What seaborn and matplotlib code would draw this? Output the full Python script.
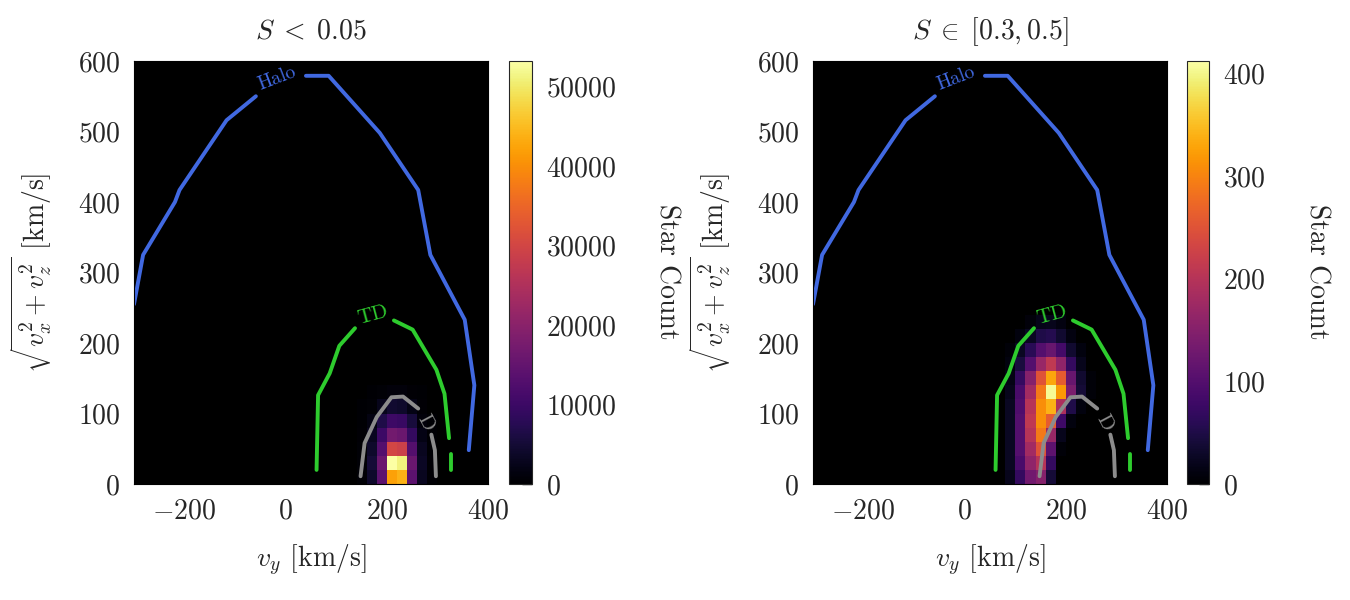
import numpy as np
import matplotlib
matplotlib.use("Agg")
import matplotlib.pyplot as plt
import seaborn as sns
from matplotlib.ticker import AutoMinorLocator, MultipleLocator

sns.set_style("white")
plt.rcParams["font.family"] = "serif"
plt.rcParams["font.serif"] = ["cmr10"]
plt.rcParams["mathtext.fontset"] = "cm"
plt.rcParams["axes.formatter.use_mathtext"] = True
plt.rcParams["axes.unicode_minus"] = True

# ---- histogram counts (20 km/s bins) ----
# panel 1: S < 0.05, v_y bins 140..300, v_perp bins 0..140 (rows bottom -> top)
vy_centers_1 = [150, 170, 190, 210, 230, 250, 270, 290]
vp_centers_1 = [10, 30, 50, 70, 90, 110, 130]
counts_1 = [
    [500, 4000, 14000, 42000, 44000, 14000, 3000, 300],
    [600, 5000, 16000, 53000, 51000, 16000, 3500, 300],
    [500, 4000, 13000, 30000, 29000, 13000, 3000, 200],
    [300, 3000, 10000, 17000, 16000, 9000, 2000, 150],
    [150, 1800, 6500, 10000, 9500, 5500, 1000, 80],
    [50, 600, 2500, 4500, 4000, 2000, 300, 0],
    [0, 100, 500, 1000, 900, 300, 50, 0],
]

# panel 2: S in [0.3, 0.5], v_y bins 80..280, v_perp bins 0..240
vy_centers_2 = [90, 110, 130, 150, 170, 190, 210, 230, 250, 270]
vp_centers_2 = [10, 30, 50, 70, 90, 110, 130, 150, 170, 190, 210, 230]
counts_2 = [
    [20, 70, 130, 150, 40, 0, 0, 0, 0, 0],
    [25, 90, 160, 200, 70, 0, 0, 0, 0, 0],
    [25, 100, 180, 250, 110, 5, 0, 0, 0, 0],
    [25, 100, 200, 290, 170, 20, 0, 0, 0, 0],
    [25, 100, 210, 310, 260, 80, 10, 0, 0, 0],
    [25, 95, 200, 310, 340, 190, 50, 10, 0, 0],
    [20, 90, 180, 290, 405, 320, 140, 40, 5, 0],
    [15, 70, 150, 250, 330, 260, 120, 35, 5, 0],
    [10, 45, 100, 170, 210, 160, 70, 20, 0, 0],
    [5, 25, 60, 100, 120, 85, 35, 10, 0, 0],
    [0, 10, 25, 50, 55, 35, 12, 0, 0, 0],
    [0, 0, 8, 18, 20, 12, 0, 0, 0, 0],
]

# ---- component boundaries (v_y, v_perp), each split where the label sits ----
halo_left_vy = [-300, -282, -219, -210, -117, -59]
halo_left_vp = [255, 325, 400, 417, 516, 550]
halo_right_vy = [40, 85, 186, 262, 286, 354, 373, 362]
halo_right_vp = [579, 579, 498, 417, 325, 233, 140, 48]

td_left_vy = [61, 64, 87, 106, 137]
td_left_vp = [20, 126, 157, 196, 221]
td_right_vy = [214, 251, 298, 314, 323]
td_right_vp = [232, 219, 162, 128, 65]
td_stub_vy = [326, 326]
td_stub_vp = [43, 20]

d_left_vy = [148, 156, 180, 209, 232, 262]
d_left_vp = [11, 58, 95, 123, 124, 107]
d_right_vy = [288, 295, 297]
d_right_vp = [70, 48, 11]

panels = [
    (r"$S \;<\; 0.05$", vy_centers_1, vp_centers_1, counts_1, (140, 300), (0, 140),
     53200, 10000, 2000),
    (r"$S \;\in\; [0.3, 0.5]$", vy_centers_2, vp_centers_2, counts_2, (80, 280), (0, 240),
     412, 100, 20),
]

fig = plt.figure(figsize=(13.5, 6), dpi=100)
W, H = 1350.0, 600.0
ax_px = [(134, 488), (813, 1167)]
cb_px = [(509, 532), (1187, 1209)]
label_px = [667, 1317]
top, bot = 61, 484

blue, green, grey = "#4169e1", "#2ecc2e", "#8c8c8c"
fs = 20

for i, (title, vyc, vpc, cnt, xr, yr, vmax, cmaj, cmin) in enumerate(panels):
    x0, x1 = ax_px[i]
    ax = fig.add_axes([x0 / W, 1 - bot / H, (x1 - x0) / W, (bot - top) / H])
    c0, c1 = cb_px[i]
    cax = fig.add_axes([c0 / W, 1 - bot / H, (c1 - c0) / W, (bot - top) / H])
    ax.set_facecolor("black")

    gx, gy = np.meshgrid(vyc, vpc)
    sns.histplot(x=gx.ravel(), y=gy.ravel(), weights=np.asarray(cnt, float).ravel(),
                 binwidth=(20, 20), binrange=(xr, yr), cmap="inferno",
                 vmin=0, vmax=vmax, cbar=True, cbar_ax=cax, ax=ax)

    lw = 2.8
    for xs, ys, col in [(halo_left_vy, halo_left_vp, blue), (halo_right_vy, halo_right_vp, blue),
                        (td_left_vy, td_left_vp, green), (td_right_vy, td_right_vp, green),
                        (td_stub_vy, td_stub_vp, green),
                        (d_left_vy, d_left_vp, grey), (d_right_vy, d_right_vp, grey)]:
        sns.lineplot(x=xs, y=ys, sort=False, estimator=None, color=col, lw=lw, ax=ax)

    ax.text(-18, 575, "Halo", color=blue, fontsize=14, rotation=21,
            ha="center", va="center")
    ax.text(172, 240, "TD", color=green, fontsize=15, rotation=15,
            ha="center", va="center")
    ax.text(277, 87, "D", color=grey, fontsize=15, rotation=-62,
            ha="center", va="center")

    ax.set_xlim(-300, 400)
    ax.set_ylim(0, 600)
    ax.xaxis.set_major_locator(MultipleLocator(200))
    ax.xaxis.set_minor_locator(AutoMinorLocator(4))
    ax.yaxis.set_major_locator(MultipleLocator(100))
    ax.yaxis.set_minor_locator(AutoMinorLocator(5))
    ax.tick_params(which="both", direction="in", color="black", labelsize=fs, pad=10)
    ax.tick_params(which="major", length=11, width=1.2)
    ax.tick_params(which="minor", length=5.5, width=1.0)
    for s in ax.spines.values():
        s.set_color("black")
    ax.set_title(title, fontsize=fs, pad=16)
    ax.set_xlabel(r"$v_y$ [km/s]", fontsize=fs)
    ax.xaxis.set_label_coords(0.5, -0.14)
    ax.set_ylabel(r"$\sqrt{v_x^2+v_z^2}$ [km/s]", fontsize=fs)
    ax.yaxis.set_label_coords(-0.225, 0.5)

    cax.yaxis.set_major_locator(MultipleLocator(cmaj))
    cax.yaxis.set_minor_locator(MultipleLocator(cmin))
    cax.tick_params(which="both", direction="in", labelsize=fs, pad=10, color="black")
    cax.tick_params(which="major", length=7, width=1.0)
    cax.tick_params(which="minor", length=4, width=0.8)
    fig.text(label_px[i] / W, 1 - 272 / H, "Star Count",
             rotation=270, ha="center", va="center", fontsize=fs)

fig.savefig("out.png", dpi=100)
